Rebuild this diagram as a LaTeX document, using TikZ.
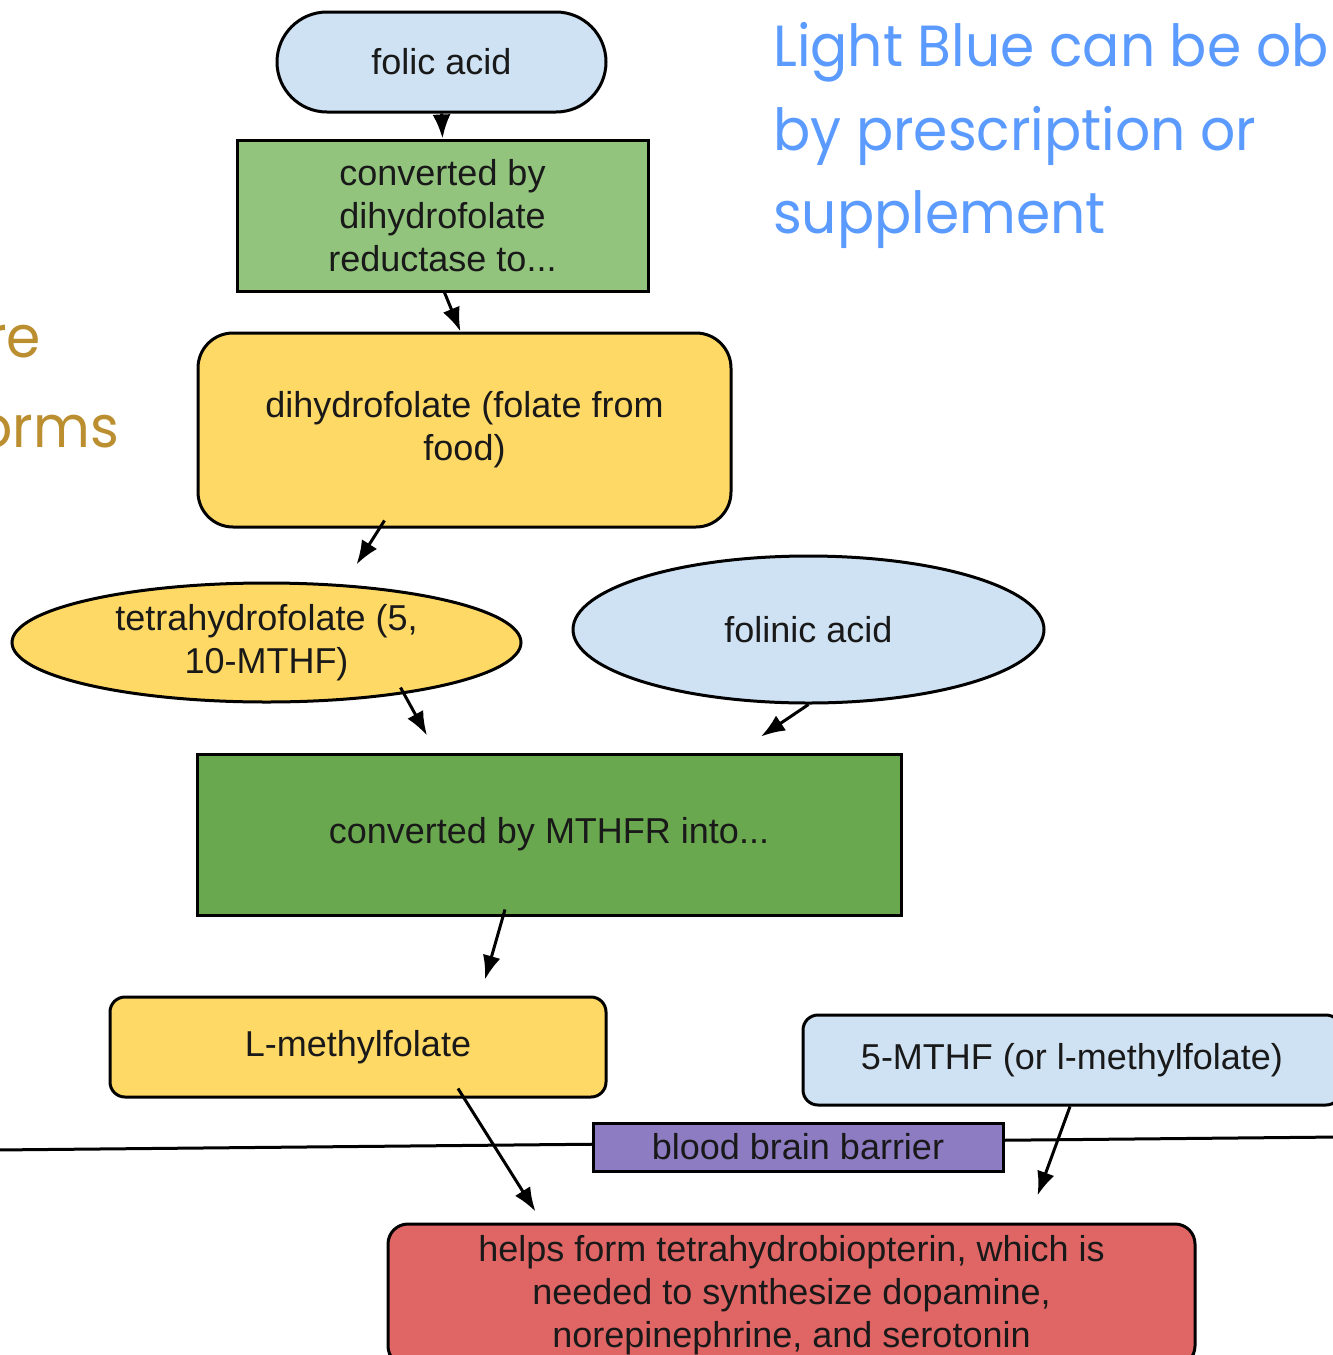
\documentclass[tikz,border=0pt]{standalone}
\usepackage{fontspec}
\setmainfont{Liberation Sans}
\newfontfamily\headfont[FakeStretch=0.95]{Poppins}
\usetikzlibrary{shapes.geometric,shapes.misc,arrows.meta,calc}

\definecolor{paleblue}{HTML}{CFE2F3}
\definecolor{leafgreen}{HTML}{93C47D}
\definecolor{deepgreen}{HTML}{6AA84F}
\definecolor{sunyellow}{HTML}{FFD966}
\definecolor{softred}{HTML}{E06666}
\definecolor{lavender}{HTML}{8E7CC3}
\definecolor{headblue}{HTML}{5B9BFF}
\definecolor{headgold}{HTML}{BB8E30}

\tikzset{
  box/.style={draw=black, line width=3pt, inner sep=0pt, align=center,
    font=\fontsize{36}{43}\selectfont, text=black!90},
  pill/.style={box, rounded rectangle},
  oval/.style={box, ellipse},
  rbox/.style={box, rounded corners=#1},
  arr/.style={line width=3pt, -{Latex[length=24pt,width=18pt]}},
  headline/.style={anchor=base west, inner sep=0pt, text=headblue,
    font=\headfont\fontsize{58}{58}\selectfont},
  sideline/.style={anchor=base east, inner sep=0pt, text=headgold,
    font=\headfont\fontsize{58}{58}\selectfont},
}

\begin{document}
\begin{tikzpicture}[x=1pt,y=-1pt]
  \useasboundingbox (0,0) rectangle (1333,1355);
  \clip (0,0) rectangle (1333,1355);
  \fill[white] (0,0) rectangle (1333,1355);

  % side captions
  \node[headline] (h1) at (773,66) {Light Blue can be ob};
  \node[headline] (h2) at (773,150) {by prescription or};
  \node[headline] (h3) at (773,233) {supplement};
  \node[sideline] (s1) at (41,357) {re};
  \node[sideline] (s2) at (119,447) {orms};

  % barrier line
  \coordinate (bl) at (-5,1150);
  \coordinate (br) at (1340,1137);
  \draw[line width=3pt] (bl) -- (br);

  % pathway nodes
  \node[pill, fill=paleblue, minimum width=329pt, minimum height=100pt]
    (folic) at (441.5,62) {folic acid};
  \node[box, fill=leafgreen, minimum width=411pt, minimum height=151pt]
    (dhfr) at (442.5,215.5) {converted by\\dihydrofolate\\reductase to...};
  \node[rbox=35pt, fill=sunyellow, minimum width=533pt, minimum height=194pt]
    (dhf) at (464.5,430) {dihydrofolate (folate from\\food)};
  \node[oval, fill=sunyellow, minimum width=509pt, minimum height=119pt]
    (thf) at (266.5,642.5) {tetrahydrofolate (5,\\10-MTHF)};
  \node[oval, fill=paleblue, minimum width=471pt, minimum height=147pt]
    (folinic) at (808.5,629.5) {folinic acid};
  \node[box, fill=deepgreen, minimum width=704pt, minimum height=161pt]
    (mthfr) at (549,834.5) {converted by MTHFR into...};
  \node[rbox=15pt, fill=sunyellow, minimum width=496pt, minimum height=100pt]
    (lmeth) at (358,1047) {L-methylfolate};
  \node[rbox=15pt, fill=paleblue, minimum width=538pt, minimum height=90pt]
    (fivem) at (1072,1060) {5-MTHF (or l-methylfolate)};
  \node[box, fill=lavender, minimum width=410pt, minimum height=48pt]
    (bbb) at (798,1147) {blood brain barrier};
  \node[rbox=20pt, fill=softred, minimum width=807pt, minimum height=142pt]
    (bh4) at (791.5,1295) {helps form tetrahydrobiopterin, which is\\needed to synthesize dopamine,\\norepinephrine, and serotonin};

  % connectors
  \draw[arr] (folic.south) -- (dhfr.north);
  \draw[arr] ([xshift=2pt]dhfr.south) -- ([xshift=-4pt]dhf.north);
  \draw[arr] ([shift={(-80,-8)}]dhf.south) -- ([shift={(-108,36)}]dhf.south);
  \draw[arr] ([shift={(134,-16)}]thf.south) -- ([shift={(-122,-17)}]mthfr.north);
  \draw[arr] (folinic.south) -- ([shift={(212,-16)}]mthfr.north);
  \draw[arr] ([shift={(-44,-7)}]mthfr.south) -- ([shift={(-64,63)}]mthfr.south);
  \draw[arr] ([shift={(100,-10)}]lmeth.south) -- ([shift={(-256,-11)}]bh4.north);
  \draw[arr] ([xshift=-2pt]fivem.south) -- ([shift={(246,-27)}]bh4.north);
\end{tikzpicture}
\end{document}
